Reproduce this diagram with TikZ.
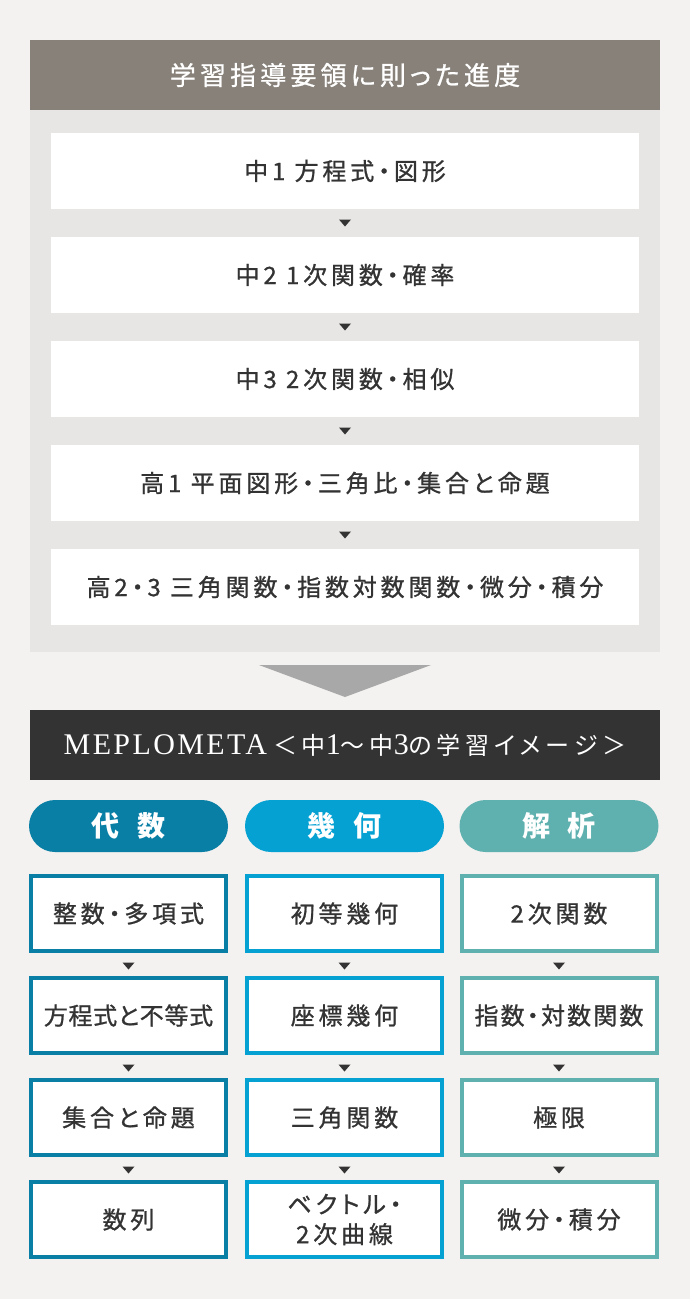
\documentclass[tikz,border=0pt]{standalone}
\usepackage{fontspec}
\setmainfont{Noto Sans CJK JP}[RawFeature=+palt]
\newfontfamily\jpmedium{Noto Sans CJK JP}[RawFeature=+palt,FakeBold=0.9]
\newfontfamily\bandserif{Liberation Serif}
\usetikzlibrary{calc}

\definecolor{pagebg}{HTML}{F3F2F0}
\definecolor{headgray}{HTML}{878179}
\definecolor{panelgray}{HTML}{E7E6E4}
\definecolor{bandgray}{HTML}{333333}
\definecolor{textc}{HTML}{333333}
\definecolor{bigtri}{HTML}{A8A8A8}
\definecolor{algc}{HTML}{0A7FA6}
\definecolor{geoc}{HTML}{05A1D3}
\definecolor{anac}{HTML}{5FB1B0}

\newcommand\headfont{\jpmedium\fontsize{26}{28}\selectfont\addfontfeatures{LetterSpace=16}}
\newcommand\stepfont{\jpmedium\fontsize{24}{28}\selectfont\addfontfeatures{LetterSpace=16}}
\newcommand\boxfont{\jpmedium\fontsize{24}{30}\selectfont\addfontfeatures{LetterSpace=16}}
\newcommand\pillfont{\fontsize{28}{30}\selectfont\bfseries}
\newcommand\tightA{\addfontfeatures{LetterSpace=3}}
\newcommand\tightB{\addfontfeatures{LetterSpace=9}}
\newcommand\bandlatin{\bandserif\fontsize{30}{34}\selectfont}

\begin{document}
\begin{tikzpicture}[x=1pt,y=-1pt,
  stepbox/.style={fill=white,minimum width=588pt,minimum height=76pt,inner sep=0pt,text=textc,font=\stepfont},
  topicbox/.style={draw=#1,line width=4pt,fill=white,minimum width=195pt,minimum height=75pt,inner sep=0pt,text=textc,align=center,font=\boxfont},
  pill/.style={fill=#1,rounded corners=26pt,minimum width=199pt,minimum height=52pt,inner sep=0pt,text=white,font=\pillfont},
  panelbox/.style={minimum width=630pt,inner sep=0pt}]
\fill[pagebg] (0,0) rectangle (690,1299);
\useasboundingbox (0,0) rectangle (690,1299);
% upper part
\node[panelbox,fill=headgray,minimum height=70pt,text=white,font=\headfont] (head) at (345,75) {学習指導要領に則った進度};
\node[panelbox,fill=panelgray,minimum height=542pt] (panel) at (345,381) {};
\node[stepbox] (step1) at (345,171) {中1 方程式・図形};
\node[stepbox] (step2) at (345,275) {中2 1次関数・確率};
\node[stepbox] (step3) at (345,379) {中3 2次関数・相似};
\node[stepbox] (step4) at (345,483) {高1 平面図形・三角比・集合と命題};
\node[stepbox] (step5) at (345,587) {高2・3 三角関数・指数対数関数・微分・積分};
\foreach \a/\b in {step1/step2,step2/step3,step3/step4,step4/step5}
  \fill[textc] ($(\a.south)!0.5!(\b.north)$) ++(-6,-3.5) -- ++(12,0) -- ++(-6,7) -- cycle;
% lower part
\node[panelbox,fill=bandgray,minimum height=70pt,text=white] (band) at (345,745)
  {{\bandlatin\addfontfeatures{LetterSpace=8}MEPLOMETA}\hspace{6pt}{\fontsize{24}{30}\selectfont\addfontfeatures{LetterSpace=20}＜中{\bandlatin 1}〜中{\bandlatin 3}の学習イメージ＞}};
\fill[bigtri] ($(panel.south)!0.5!(band.north)$) ++(-86,-16) -- ++(172,0) -- ++(-86,32) -- cycle;
\node[pill=algc] (alg) at (128.5,826) {代\hspace{18pt}数};
\node[pill=geoc] (geo) at (344.5,826) {幾\hspace{18pt}何};
\node[pill=anac] (ana) at (559,826) {解\hspace{18pt}析};
\node[topicbox=algc] (alg1) at (128.5,913.5) {整数・多項式};
\node[topicbox=algc] (alg2) at (128.5,1015.5) {\tightA 方程式と不等式};
\node[topicbox=algc] (alg3) at (128.5,1117.5) {集合と命題};
\node[topicbox=algc] (alg4) at (128.5,1219.5) {数列};
\node[topicbox=geoc] (geo1) at (344.5,913.5) {初等幾何};
\node[topicbox=geoc] (geo2) at (344.5,1015.5) {座標幾何};
\node[topicbox=geoc] (geo3) at (344.5,1117.5) {三角関数};
\node[topicbox=geoc] (geo4) at (344.5,1219.5) {ベクトル・\\2次曲線};
\node[topicbox=anac] (ana1) at (559,913.5) {2次関数};
\node[topicbox=anac] (ana2) at (559,1015.5) {\tightB 指数・対数関数};
\node[topicbox=anac] (ana3) at (559,1117.5) {極限};
\node[topicbox=anac] (ana4) at (559,1219.5) {微分・積分};
\foreach \c in {alg,geo,ana}
  \foreach \i/\j in {1/2,2/3,3/4}
    \fill[textc] ($(\c\i.south)!0.5!(\c\j.north)$) ++(-6,-2) -- ++(12,0) -- ++(-6,7) -- cycle;
\end{tikzpicture}
\end{document}
